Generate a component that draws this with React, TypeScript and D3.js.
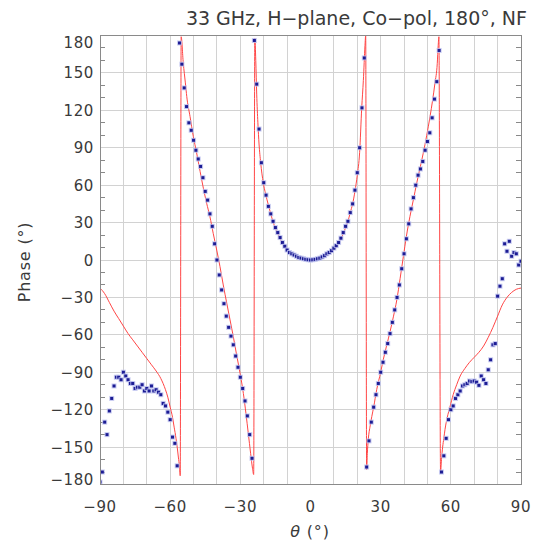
import React from "react";
import * as d3 from "d3";

// Measured phase (blue markers), theta = -90..90 step 1
const measTheta: number[] = d3.range(-90, 91, 1);
const measPhase: number[] = [
  -178, -170, -130, -140, -121, -111, -101, -94, -94, -96,
  -90, -93, -96, -99, -99, -103, -102, -102, -100, -105,
  -103, -105, -101, -105, -104, -106, -108, -115, -117, -122,
  -128, -142, -147, -165, 174, 157, 138, 123, 110, 104,
  96, 88, 81, 75, 66, 55, 48, 37, 27, 13,
  0, -12, -24, -35, -45, -54, -61, -68, -77, -86,
  -94, -103, -113, -125, -140, -159, 176, 141, 105, 78,
  62, 52, 43, 37, 31, 26, 22, 18, 14, 11,
  8, 6, 5, 4, 3, 2, 1.5, 1, 0.5, 0.2,
  0,
  0.2, 0.5, 1, 1.5, 2.5, 3.5, 5, 6, 7.5, 9.5,
  11.5, 14, 17.5, 22, 27, 31, 38, 45, 56, 70,
  90, 122, 162, -166, -145, -130, -118, -108, -99, -90,
  -82, -74, -67, -59, -50, -40, -30, -20, -7, 5,
  17, 29, 41, 50, 60, 68, 73, 79, 88, 95,
  102, 114, 129, 143, 168, -170, -157, -143, -128, -120,
  -117, -111, -108, -105, -101, -100, -99, -97, -97.5, -97,
  -98, -100.5, -93, -96, -99, -88, -80, -68, -67, -29,
  -21, -15, 13, 7, 15, 3, 6, 5, -4, -1,
];

// Simulated phase (red line)
const simTheta: number[] = [
  -90, -88, -86, -84, -82, -80, -78, -76, -74, -72, -70, -68, -66, -64, -62, -61, -60, -59, -58.3, -57.5, -57, -56.5, -56, -55.7,
  -55.3, -54.4, -53.5, -52.9, -51.5, -50.1, -48.7, -47.2, -45.8, -44.4, -43, -41.6, -40.1, -38.7, -37.3, -35.8, -34.4, -33, -31.6, -30.1, -28.7, -27.6, -26.6, -25.6, -24.8, -24.3,
  -23.8, -23.4, -23, -22.5, -22, -21.3, -20.2, -19.2, -18, -17, -16, -15, -14, -13, -12, -11, -10, -8, -6, -4, -2, 0,
  2, 4, 6, 8, 10, 11, 12, 13, 14, 15, 16, 17, 18, 19, 20, 21, 21.9, 22.6, 23.3, 23.6,
  24, 24.3, 24.7, 25.5, 26.2, 27, 28.3, 30, 31.1, 32.5, 34, 35.5, 36.9, 38.3, 39.7, 41, 42.5, 44, 45.4, 46.8, 48.2, 49.7, 51.1, 52.2, 53.2, 54.2, 54.6, 54.9,
  55.6, 56, 56.5, 57, 57.5, 58.5, 59.6, 61, 62.5, 64, 66, 68, 70, 72, 74, 76, 78, 80, 82, 84, 86, 88, 90,
];
const simPhase: number[] = [
  -22.5, -27, -34, -41, -47, -53, -59, -64, -69, -74, -79, -84, -89, -95, -104, -110, -118, -126, -134, -143, -150, -158, -166, -173,
  179, 158, 142, 131, 115, 99, 86, 71, 57.5, 45.5, 34.7, 21.4, 8, -5.3, -20, -34.7, -48, -61.5, -76, -91, -107, -123, -139, -155, -167, -172,
  178, 160, 133, 110, 93, 78, 62, 53, 44, 37, 30.5, 25.5, 21, 17, 13.5, 10.5, 8, 5, 2.8, 1.2, 0.3, 0,
  0.3, 1.2, 2.8, 5, 8, 10.5, 13.5, 17, 21, 26, 31, 38, 45, 55, 68, 86, 122, 144, 172, 180,
  -168, -155, -144, -133, -125.6, -118, -104, -90, -80, -69, -57.5, -45, -32, -15, 2.7, 19, 34.7, 48.5, 61.5, 73.5, 85.6, 100, 115, 128, 141.7, 157.7, 172, 179,
  -170, -160, -150, -143, -136, -126, -118, -108, -100, -93, -87, -82, -78, -74, -69, -62, -54, -45, -36, -30, -26, -23.5, -22.5,
];

const xTicks: number[] = [-90, -60, -30, 0, 30, 60, 90];
const yTicks: number[] = [-180, -150, -120, -90, -60, -30, 0, 30, 60, 90, 120, 150, 180];
const titleText = "33 GHz, H\u2212plane, Co\u2212pol, 180°, NF";

const W = 534;
const H = 543;
const L = 100, R = 521, T = 35.5, B = 484.5;

const fmt = (v: number) => (v < 0 ? "\u2212" + Math.abs(v) : String(v));

export default function App() {
  const x = d3.scaleLinear().domain([-90, 90]).range([L, R]);
  const y = d3.scaleLinear().domain([-180, 180]).range([B, T]);

  const simData = simTheta.map((t, i) => [t, simPhase[i]] as [number, number]);
  const line = d3
    .line<[number, number]>()
    .x((d) => x(d[0]))
    .y((d) => y(d[1]))
    .curve(d3.curveMonotoneX);

  const vGrid = d3.range(-80, 90, 10);
  const hGrid = d3.range(-150, 180, 30);
  const minor = d3.range(-170, 180, 10).filter((v) => v % 30 !== 0);
  const font = "'DejaVu Sans', sans-serif";
  const textColor = "#3a3a3a";

  return (
    <svg
      width={W}
      height={H}
      style={{ position: "absolute", left: 0, top: 0, background: "#fff" }}
    >
      <rect x={0} y={0} width={W} height={H} fill="#fff" />
      <defs>
        <clipPath id="plotClip">
          <rect x={L} y={T - 1} width={R - L} height={B - T + 2} />
        </clipPath>
      </defs>
      {/* grid */}
      <g stroke="#d2d2d2" strokeWidth={1} shapeRendering="crispEdges">
        {vGrid.map((v) => (
          <line key={"v" + v} x1={x(v)} x2={x(v)} y1={T} y2={B} />
        ))}
        {hGrid.map((v) => (
          <line key={"h" + v} x1={L} x2={R} y1={y(v)} y2={y(v)} />
        ))}
      </g>
      {/* minor ticks */}
      <g stroke="#888" strokeWidth={1} shapeRendering="crispEdges">
        {minor.map((v) => (
          <g key={"m" + v}>
            <line x1={L} x2={L + 5} y1={y(v)} y2={y(v)} />
            <line x1={R - 5} x2={R} y1={y(v)} y2={y(v)} />
          </g>
        ))}
        {[-180, 180].map((v) => (
          <g key={"e" + v}>
            <line x1={L} x2={L + 5} y1={y(v)} y2={y(v)} />
            <line x1={R - 5} x2={R} y1={y(v)} y2={y(v)} />
          </g>
        ))}
      </g>
      {/* simulated red line */}
      <g clipPath="url(#plotClip)">
        <path d={line(simData) || ""} fill="none" stroke="#ff4545" strokeWidth={1} />
        {/* measured markers */}
        {measTheta.map((t, i) => (
          <g key={"p" + t} transform={`translate(${x(t)},${y(measPhase[i])})`}>
            <rect x={-2.5} y={-2.5} width={5} height={5} fill="#bcbfee" opacity={0.8} />
            <rect x={-1.5} y={-1.5} width={3} height={3} fill="#1c1c94" />
          </g>
        ))}
      </g>
      {/* frame */}
      <rect
        x={L}
        y={T}
        width={R - L}
        height={B - T}
        fill="none"
        stroke="#8a8a8a"
        strokeWidth={1}
        shapeRendering="crispEdges"
      />
      {/* y tick labels */}
      <g fontFamily={font} fontSize={15} fill={textColor} textAnchor="end">
        {yTicks.map((v) => {
          let cy = y(v);
          if (v === 180) cy = 42;
          if (v === -180) cy = 479;
          return (
            <text key={"yl" + v} x={94} y={cy + 5.5} letterSpacing={0.6}>
              {fmt(v)}
            </text>
          );
        })}
      </g>
      {/* x tick labels */}
      <g fontFamily={font} fontSize={15} fill={textColor} textAnchor="middle">
        {xTicks.map((v) => (
          <text key={"xl" + v} x={x(v)} y={512} letterSpacing={0.6}>
            {fmt(v)}
          </text>
        ))}
      </g>
      {/* axis titles */}
      <text
        x={310}
        y={537}
        fontFamily={font}
        fontSize={16}
        fill={textColor}
        textAnchor="middle"
        letterSpacing={0.8}
      >
        <tspan fontStyle="italic">θ</tspan> (°)
      </text>
      <text
        transform="translate(30,262) rotate(-90)"
        fontFamily={font}
        fontSize={16}
        fill={textColor}
        textAnchor="middle"
        letterSpacing={0.8}
      >
        Phase (°)
      </text>
      {/* title */}
      <text
        x={527}
        y={25}
        fontFamily={font}
        fontSize={19}
        fill={textColor}
        textAnchor="end"
      >
        {titleText}
      </text>
    </svg>
  );
}
